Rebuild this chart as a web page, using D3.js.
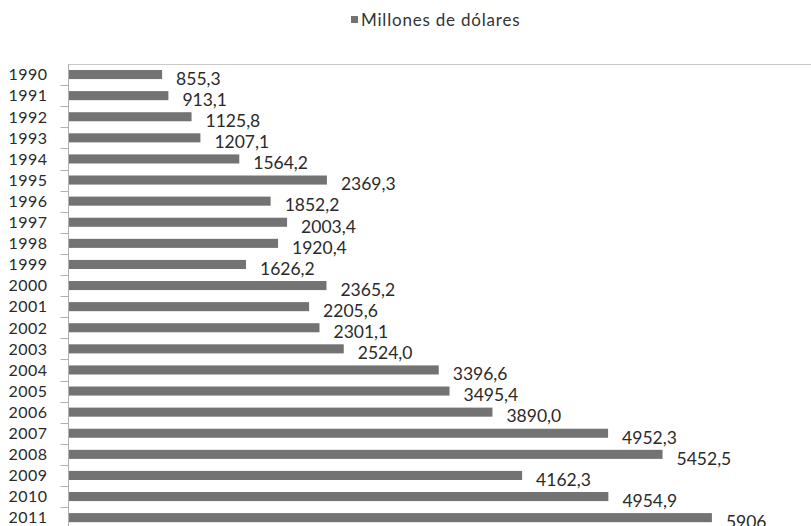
<!DOCTYPE html>
<html>
<head>
<meta charset="utf-8">
<script src="https://cdn.jsdelivr.net/npm/d3@7"></script>
<style>
  body { margin: 0; background: #fff; }
  svg { display: block; font-family: Lato, "Open Sans", sans-serif; }
</style>
</head>
<body>
<div id="chart"></div>
<script>
const years = ["1990","1991","1992","1993","1994","1995","1996","1997","1998","1999","2000",
  "2001","2002","2003","2004","2005","2006","2007","2008","2009","2010","2011"];
const valores = [855.3, 913.1, 1125.8, 1207.1, 1564.2, 2369.3, 1852.2, 2003.4, 1920.4, 1626.2, 2365.2,
  2205.6, 2301.1, 2524.0, 3396.6, 3495.4, 3890.0, 4952.3, 5452.5, 4162.3, 4954.9, 5906];
const etiquetas = ["855,3","913,1","1125,8","1207,1","1564,2","2369,3","1852,2","2003,4","1920,4","1626,2","2365,2",
  "2205,6","2301,1","2524,0","3396,6","3495,4","3890,0","4952,3","5452,5","4162,3","4954,9","5906"];
const serie = "Millones de dólares";

const data = years.map((y, i) => ({ year: y, valor: valores[i], label: etiquetas[i] }));

const width = 811, height = 526;
const margin = { top: 64, left: 68 };

const svg = d3.select("#chart").append("svg")
   .attr("width", width)
   .attr("height", height);

const xScale = d3.scaleLinear()
   .domain([0, 7000])
   .range([margin.left + 1, margin.left + 1 + 762]);

const yScale = d3.scaleBand()
   .domain(years)
   .range([margin.top, margin.top + 21.1 * years.length])
   .paddingInner(0.57)
   .paddingOuter(0.285);

// top border of plot area
svg.append("line")
   .attr("x1", margin.left).attr("x2", width)
   .attr("y1", margin.top + 0.5).attr("y2", margin.top + 0.5)
   .attr("stroke", "#c8c8c8");

// category axis
const step = yScale.step();
const yAxis = svg.append("g")
   .attr("transform", "translate(" + (margin.left + 0.5) + ",0)");
yAxis.append("line")
   .attr("y1", margin.top).attr("y2", height)
   .attr("stroke", "#b0b0b0");
yAxis.selectAll(".tk")
   .data(years)
   .enter()
   .append("line")
   .attr("x1", -8).attr("x2", 0)
   .attr("y1", (d) => Math.round(yScale(d) - yScale.paddingOuter() * step + step) + 0.5)
   .attr("y2", (d) => Math.round(yScale(d) - yScale.paddingOuter() * step + step) + 0.5)
   .attr("stroke", "#b0b0b0");
yAxis.selectAll(".lbl")
   .data(years)
   .enter()
   .append("text")
   .attr("x", -21)
   .attr("y", (d) => yScale(d) + yScale.bandwidth() / 2)
   .attr("dy", "0.36em")
   .attr("text-anchor", "end")
   .attr("font-size", 16)
   .attr("letter-spacing", 0.5)
   .attr("fill", "#2a2a2a")
   .text((d) => d);

svg.selectAll("rect.bar")
   .data(data)
   .enter()
   .append("rect")
   .attr("class", "bar")
   .attr("x", xScale(0))
   .attr("y", (d) => yScale(d.year))
   .attr("width", (d) => xScale(d.valor) - xScale(0))
   .attr("height", yScale.bandwidth())
   .attr("fill", "#737373");

svg.selectAll("text.val")
   .data(data)
   .enter()
   .append("text")
   .attr("class", "val")
   .attr("x", (d) => xScale(d.valor) + 14)
   .attr("y", (d) => yScale(d.year) + yScale.bandwidth() / 2 + 4)
   .attr("dy", "0.36em")
   .attr("font-size", 17.5)
   .attr("fill", "#2a2a2a")
   .text((d) => d.label);

// legend
const legend = svg.append("g").attr("transform", "translate(351,16)");
legend.append("rect")
   .attr("width", 7).attr("height", 7)
   .attr("fill", "#737373");
legend.append("text")
   .attr("x", 10).attr("y", 4)
   .attr("dy", "0.36em")
   .attr("font-size", 17)
   .attr("letter-spacing", 0.8)
   .attr("fill", "#333")
   .text(serie);
</script>
</body>
</html>
